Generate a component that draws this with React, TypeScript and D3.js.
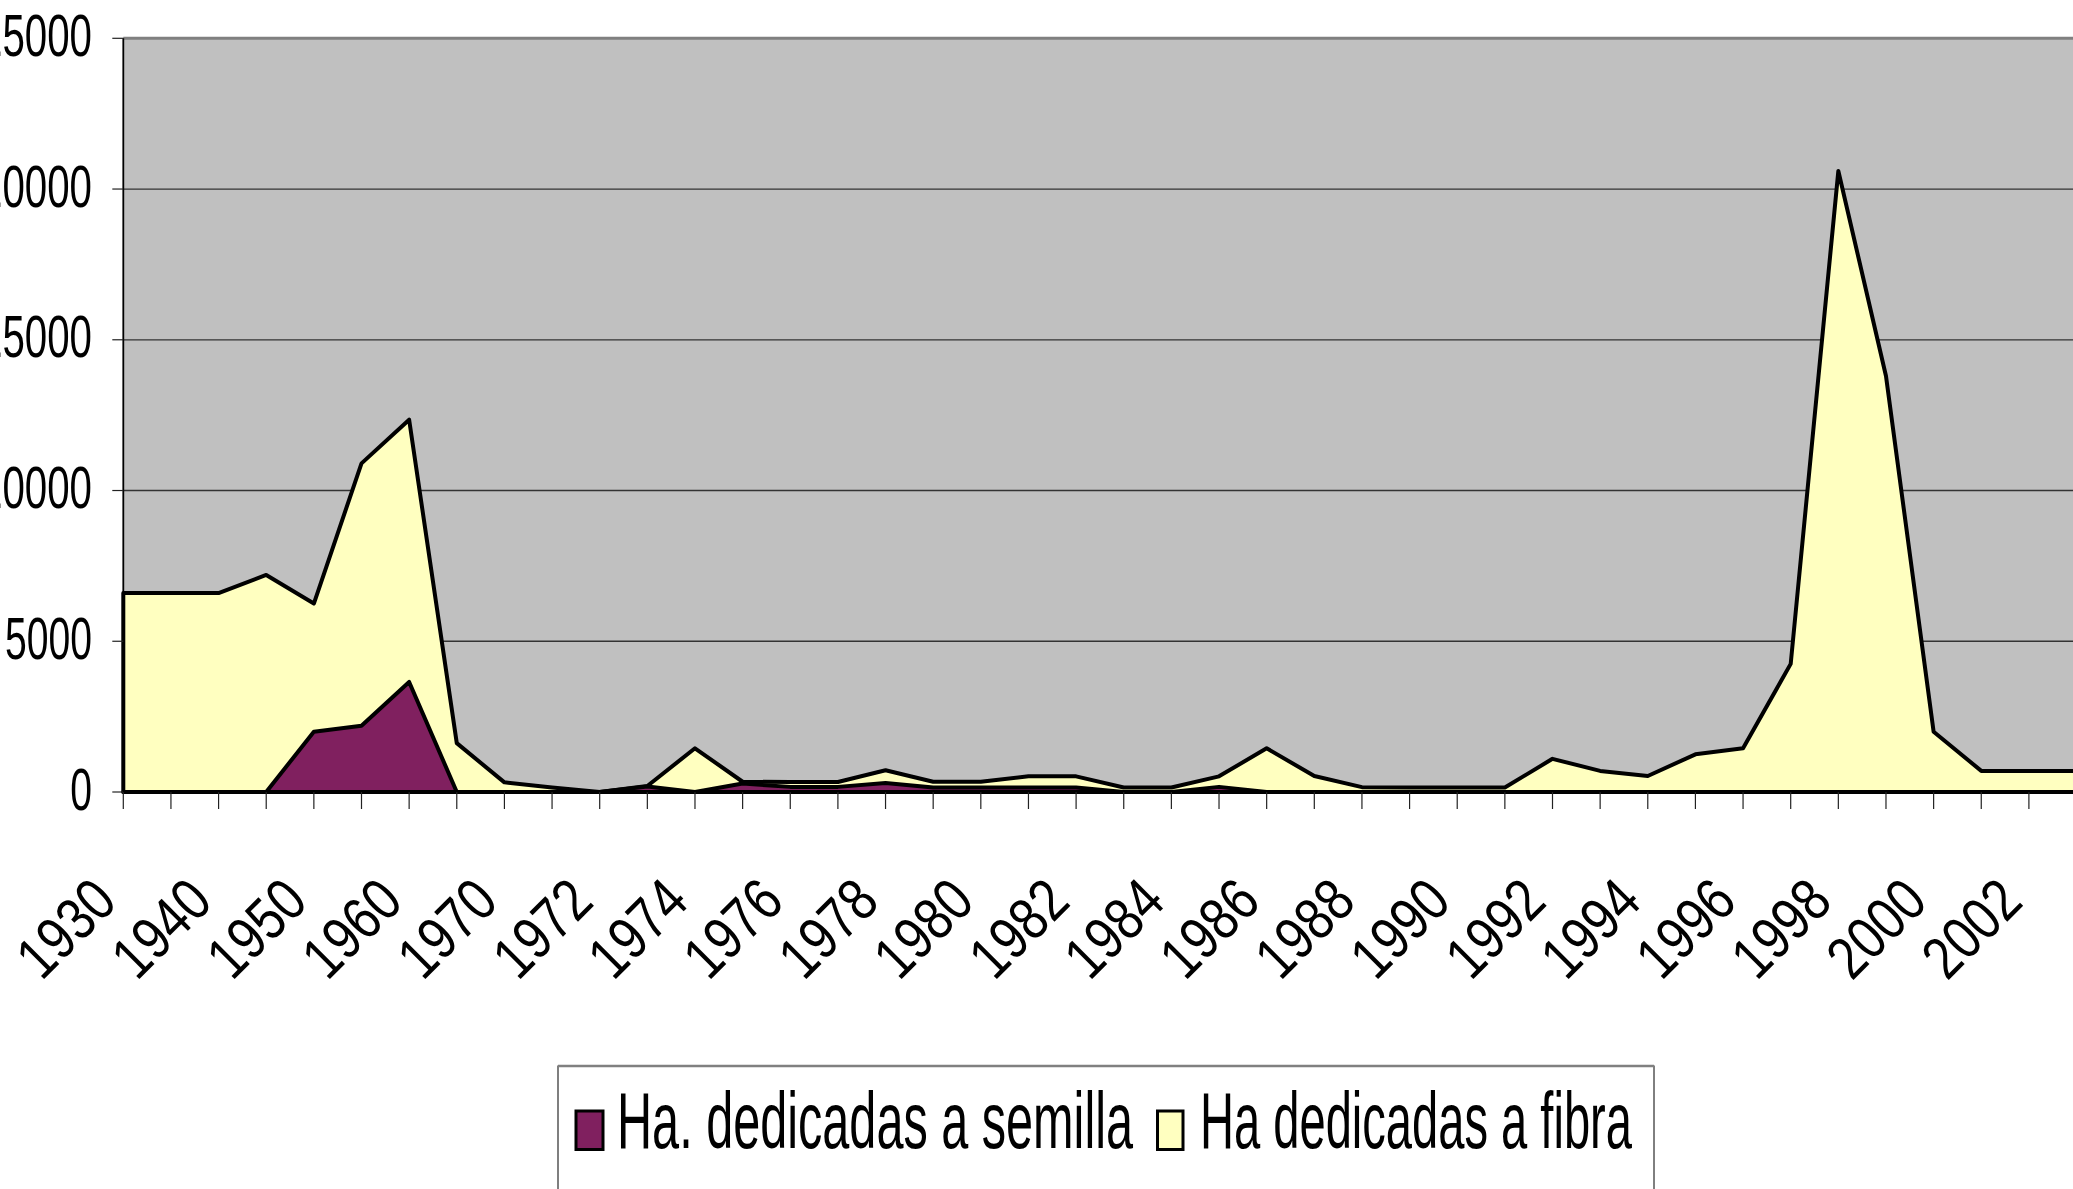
import React, { useLayoutEffect, useRef, useState } from "react";
import * as d3 from "d3";

// ---- data ----
const years: string[] = [
  "1930", "1935", "1940", "1945", "1950", "1955", "1960", "1965",
  "1970", "1971", "1972", "1973", "1974", "1975", "1976", "1977", "1978", "1979",
  "1980", "1981", "1982", "1983", "1984", "1985", "1986", "1987", "1988", "1989",
  "1990", "1991", "1992", "1993", "1994", "1995", "1996", "1997", "1998", "1999",
  "2000", "2001", "2002", "2003",
];

const haSemilla: number[] = [
  0, 0, 0, 0, 2000, 2200, 3650, 0,
  0, 0, 0, 180, 0, 280, 170, 170, 300, 150,
  150, 150, 150, 0, 0, 170, 0, 0, 0, 0,
  0, 0, 0, 0, 0, 0, 0, 0, 0, 0,
  0, 0, 0, 0,
];

const haFibra: number[] = [
  6600, 6600, 6600, 7200, 6250, 10900, 12350, 1620,
  320, 150, 0, 200, 1450, 340, 330, 330, 720, 340,
  340, 520, 520, 150, 150, 520, 1450, 530, 160, 150,
  150, 150, 1100, 700, 530, 1250, 1450, 4250, 20600, 13800,
  2000, 700, 700, 700,
];

const yTicks: number[] = [0, 5000, 10000, 15000, 20000, 25000];

const seriesNames: string[] = ["Ha. dedicadas a semilla", "Ha dedicadas a fibra"];
const seriesColors: string[] = ["#80205F", "#FFFFC0"];

// ---- layout ----
const W = 2073;
const H = 1189;
const plotLeft = 123.3;
const plotTop = 38.3;
const plotBottom = 792;
const step = 47.64;
const FONT = "'Liberation Sans', Arial, sans-serif";

type FitProps = {
  x: number;
  y: number;
  width: number;
  fontSize: number;
  anchor?: "start" | "end" | "middle";
  rotate?: number;
  children: string;
};

// text squeezed horizontally to a measured width (the reference uses a narrow face)
function FitText({ x, y, width, fontSize, anchor = "start", rotate = 0, children }: FitProps) {
  const ref = useRef<SVGTextElement>(null);
  const [sx, setSx] = useState(0.65);
  useLayoutEffect(() => {
    if (ref.current) {
      const w = ref.current.getComputedTextLength();
      if (w > 0) setSx(width / w);
    }
  }, [width, fontSize, children]);
  return (
    <text
      ref={ref}
      transform={`translate(${x},${y}) rotate(${rotate}) scale(${sx},1)`}
      textAnchor={anchor}
      fontFamily={FONT}
      fontSize={fontSize}
      fill="#000"
    >
      {children}
    </text>
  );
}

export default function App() {
  const n = years.length;
  const x = d3.scaleLinear().domain([0, n - 1]).range([plotLeft, plotLeft + (n - 1) * step]);
  const y = d3.scaleLinear().domain([0, 25000]).range([plotBottom, plotTop]);
  const plotRight = x(n - 1);

  const area = d3
    .area<number>()
    .x((_, i) => x(i))
    .y0(y(0))
    .y1((d) => y(d));

  const fibraPath = area(haFibra) || "";
  const semillaPath = area(haSemilla) || "";

  return (
    <svg
      width={W}
      height={H}
      style={{ position: "absolute", left: 0, top: 0, display: "block", background: "#fff" }}
    >
      {/* plot background */}
      <rect x={plotLeft} y={plotTop} width={plotRight - plotLeft} height={plotBottom - plotTop} fill="#C0C0C0" />

      {/* gridlines */}
      {yTicks.map((t) => (
        <line key={"g" + t} x1={plotLeft} x2={W} y1={y(t)} y2={y(t)} stroke="#333" strokeWidth={1.3} />
      ))}
      {/* top border */}
      <line x1={plotLeft} x2={W} y1={plotTop} y2={plotTop} stroke="#808080" strokeWidth={3} />

      {/* areas */}
      <path d={fibraPath} fill={seriesColors[1]} stroke="#000" strokeWidth={4} strokeLinejoin="round" />
      <path d={semillaPath} fill={seriesColors[0]} stroke="#000" strokeWidth={4} strokeLinejoin="round" />

      {/* y axis */}
      <line x1={plotLeft} x2={plotLeft} y1={plotTop} y2={plotBottom} stroke="#000" strokeWidth={1.8} />
      {yTicks.map((t) => {
        const s = String(t);
        const wdt = s.length >= 5 ? s.length * 22.4 : s.length * 21.75;
        return (
          <g key={"yt" + t}>
            <line x1={plotLeft - 11} x2={plotLeft} y1={y(t)} y2={y(t)} stroke="#222" strokeWidth={1.2} />
            <FitText x={92} y={y(t) + 17.5} anchor="end" fontSize={60} width={wdt}>
              {s}
            </FitText>
          </g>
        );
      })}

      {/* x axis */}
      <line x1={plotLeft} x2={W} y1={plotBottom} y2={plotBottom} stroke="#000" strokeWidth={2} />
      {years.map((yr, i) => (
        <line key={"xt" + yr} x1={x(i)} x2={x(i)} y1={plotBottom} y2={plotBottom + 17} stroke="#222" strokeWidth={1.2} />
      ))}
      {years.map((yr, i) =>
        i % 2 === 0 ? (
          <FitText key={"xl" + yr} x={x(i) - 4} y={904} rotate={-45} anchor="end" fontSize={60} width={110}>
            {yr}
          </FitText>
        ) : null
      )}

      {/* legend */}
      <rect x={558} y={1066} width={1654 - 558} height={200} fill="#fff" stroke="#000" strokeWidth={1} />
      <line x1={558} x2={1654} y1={1066} y2={1066} stroke="#808080" strokeWidth={2.5} />
      <rect x={576} y={1111} width={27} height={38.5} fill={seriesColors[0]} stroke="#000" strokeWidth={3} />
      <FitText x={617} y={1148.3} fontSize={79} width={516}>
        {seriesNames[0]}
      </FitText>
      <rect x={1157.5} y={1111} width={25.5} height={38.5} fill={seriesColors[1]} stroke="#000" strokeWidth={3} />
      <FitText x={1200} y={1148.3} fontSize={79} width={432}>
        {seriesNames[1]}
      </FitText>
    </svg>
  );
}
